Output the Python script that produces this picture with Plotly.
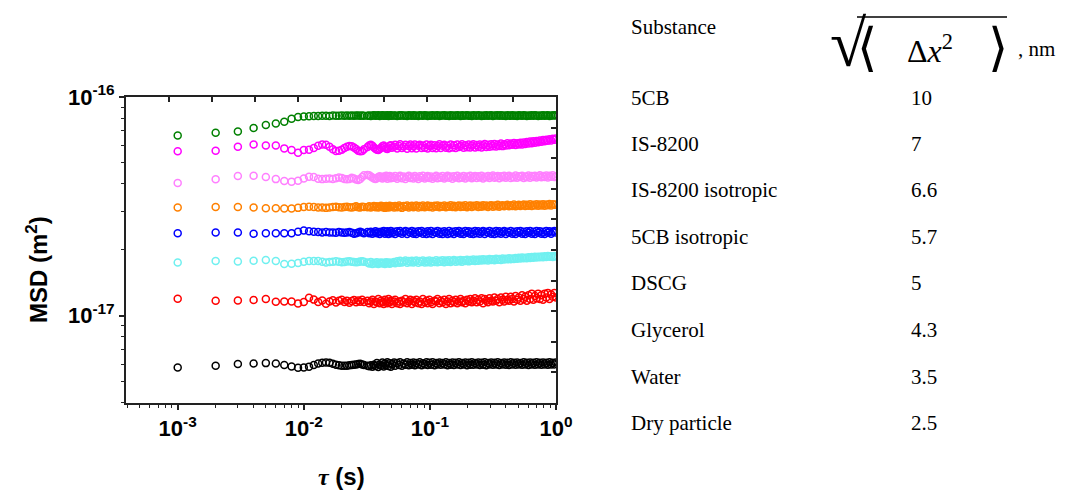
import plotly.graph_objects as go

# ---------------- data ----------------
# lag times in ms
tau_ms = [1, 2, 3, 4, 5, 6, 7, 8, 9, 10, 11, 12, 13, 14, 15, 16, 17, 18, 19, 20,
          21, 22, 23, 24, 25, 26, 27, 28, 29, 30,
          32, 33, 34, 35, 36, 37, 38, 39, 40, 41,
          42, 43, 44, 45, 46, 47, 48, 49, 50, 52,
          53, 55, 57, 58, 60, 62, 64, 66, 68, 70,
          72, 74, 76, 78, 81, 83, 86, 88, 91, 94,
          96, 99, 102, 105, 109, 112, 115, 119, 122, 126,
          130, 134, 138, 142, 146, 151, 155, 160, 165, 170,
          175, 180, 185, 191, 197, 203, 209, 215, 221, 228,
          235, 242, 249, 257, 264, 272, 280, 289, 297, 306,
          316, 325, 335, 345, 355, 366, 377, 388, 400, 412,
          424, 437, 450, 464, 478, 492, 507, 522, 538, 554,
          570, 587, 605, 623, 642, 661, 681, 701, 722, 744,
          766, 789, 813, 837, 862, 888, 915, 942, 971, 1000]

# MSD values in units of 1e-17 m^2
msd_5cb = [6.67, 6.86, 6.96, 7.21, 7.44, 7.57, 7.70, 7.96, 8.10, 8.15, 8.17, 8.19, 8.18, 8.20, 8.21,
           8.19, 8.22, 8.20, 8.21, 8.23, 8.20, 8.22, 8.21, 8.23, 8.20, 8.22, 8.24, 8.21, 8.22, 8.20,
           8.21, 8.24, 8.19, 8.23, 8.25, 8.20, 8.22, 8.26, 8.19, 8.23,
           8.25, 8.20, 8.24, 8.21, 8.26, 8.19, 8.23, 8.25, 8.20, 8.24,
           8.22, 8.19, 8.25, 8.21, 8.26, 8.20, 8.23, 8.19, 8.25, 8.22,
           8.20, 8.26, 8.21, 8.24, 8.19, 8.25, 8.22, 8.20, 8.26, 8.23,
           8.19, 8.24, 8.21, 8.26, 8.20, 8.23, 8.25, 8.19, 8.24, 8.22,
           8.26, 8.20, 8.23, 8.19, 8.25, 8.21, 8.24, 8.20, 8.26, 8.22,
           8.19, 8.25, 8.21, 8.23, 8.26, 8.20, 8.24, 8.19, 8.25, 8.22,
           8.20, 8.26, 8.22, 8.19, 8.24, 8.21, 8.25, 8.20, 8.23, 8.26,
           8.19, 8.24, 8.22, 8.25, 8.20, 8.26, 8.21, 8.23, 8.19, 8.25,
           8.22, 8.20, 8.26, 8.21, 8.24, 8.19, 8.25, 8.22, 8.20, 8.26,
           8.23, 8.19, 8.24, 8.21, 8.26, 8.20, 8.25, 8.22, 8.19, 8.24,
           8.21, 8.26, 8.20, 8.23, 8.25, 8.19, 8.24, 8.22, 8.26, 8.23]

msd_is8200 = [5.64, 5.68, 5.92, 6.07, 6.00, 6.00, 5.82, 5.72, 5.56, 5.72, 5.74, 5.84, 5.98, 6.07, 6.05,
              5.92, 5.76, 5.66, 5.68, 5.74, 5.84, 5.92, 5.97, 5.95, 5.88, 5.78, 5.68, 5.64, 5.66, 5.76,
              5.90, 6.00, 6.04, 5.98, 5.88, 5.80, 5.74, 5.72, 5.78, 5.86,
              5.95, 6.00, 5.90, 5.82, 5.78, 5.88, 5.98, 6.02, 5.86, 5.92,
              6.04, 5.82, 5.96, 6.08, 5.84, 5.93, 6.05, 5.80, 5.97, 6.06,
              5.83, 5.95, 6.07, 5.81, 5.98, 6.05, 5.84, 6.00, 5.86, 6.07,
              5.82, 5.96, 6.05, 5.85, 6.01, 5.83, 5.97, 6.08, 5.84, 5.99,
              6.05, 5.86, 5.98, 5.83, 6.06, 5.88, 6.01, 5.85, 6.07, 5.90,
              5.97, 6.08, 5.86, 6.02, 5.89, 6.06, 5.87, 6.00, 6.08, 5.88,
              6.03, 5.90, 6.07, 5.88, 6.02, 6.09, 5.90, 6.04, 5.92, 6.08,
              5.95, 6.10, 5.93, 6.06, 5.97, 6.12, 5.96, 6.08, 6.00, 6.14,
              6.01, 6.12, 6.04, 6.16, 6.03, 6.14, 6.07, 6.18, 6.06, 6.20,
              6.10, 6.22, 6.12, 6.25, 6.14, 6.27, 6.17, 6.29, 6.21, 6.32,
              6.24, 6.35, 6.27, 6.38, 6.30, 6.41, 6.33, 6.44, 6.37, 6.45]

msd_is8200_iso = [4.04, 4.20, 4.35, 4.36, 4.30, 4.21, 4.13, 4.10, 4.14, 4.24, 4.32, 4.30, 4.23, 4.21, 4.23,
                  4.24, 4.22, 4.25, 4.28, 4.26, 4.22, 4.20, 4.22, 4.27, 4.24, 4.19, 4.17, 4.22, 4.30, 4.38,
                  4.40, 4.38, 4.33, 4.28, 4.24, 4.22, 4.25, 4.30, 4.34, 4.28,
                  4.24, 4.33, 4.27, 4.36, 4.23, 4.31, 4.35, 4.25, 4.32, 4.27,
                  4.35, 4.23, 4.30, 4.36, 4.25, 4.33, 4.22, 4.31, 4.36, 4.26,
                  4.32, 4.24, 4.35, 4.28, 4.22, 4.34, 4.27, 4.36, 4.24, 4.31,
                  4.35, 4.26, 4.33, 4.23, 4.30, 4.36, 4.25, 4.32, 4.27, 4.35,
                  4.24, 4.31, 4.36, 4.27, 4.33, 4.23, 4.34, 4.28, 4.36, 4.25,
                  4.32, 4.27, 4.35, 4.24, 4.33, 4.29, 4.36, 4.25, 4.31, 4.35,
                  4.26, 4.34, 4.28, 4.36, 4.24, 4.32, 4.29, 4.35, 4.26, 4.33,
                  4.37, 4.27, 4.31, 4.35, 4.25, 4.34, 4.29, 4.36, 4.27, 4.33,
                  4.36, 4.26, 4.32, 4.28, 4.37, 4.27, 4.34, 4.30, 4.36, 4.26,
                  4.33, 4.29, 4.37, 4.27, 4.35, 4.31, 4.36, 4.28, 4.34, 4.38,
                  4.29, 4.35, 4.31, 4.37, 4.28, 4.36, 4.32, 4.38, 4.30, 4.34]

msd_5cb_iso = [3.12, 3.14, 3.14, 3.12, 3.10, 3.10, 3.09, 3.09, 3.11, 3.14, 3.15, 3.14, 3.12, 3.12, 3.11,
               3.12, 3.14, 3.15, 3.13, 3.12, 3.14, 3.15, 3.13, 3.12, 3.14, 3.16, 3.13, 3.12, 3.15, 3.14,
               3.13, 3.16, 3.12, 3.15, 3.17, 3.13, 3.16, 3.12, 3.15, 3.18,
               3.13, 3.16, 3.11, 3.17, 3.14, 3.12, 3.18, 3.14, 3.16, 3.12,
               3.17, 3.13, 3.19, 3.14, 3.11, 3.17, 3.15, 3.19, 3.12, 3.16,
               3.18, 3.13, 3.16, 3.19, 3.12, 3.17, 3.14, 3.19, 3.13, 3.16,
               3.19, 3.14, 3.17, 3.12, 3.18, 3.15, 3.19, 3.13, 3.17, 3.15,
               3.19, 3.13, 3.17, 3.15, 3.20, 3.14, 3.18, 3.13, 3.17, 3.19,
               3.14, 3.18, 3.15, 3.20, 3.13, 3.17, 3.19, 3.14, 3.18, 3.16,
               3.20, 3.14, 3.18, 3.15, 3.20, 3.16, 3.19, 3.14, 3.18, 3.20,
               3.15, 3.19, 3.16, 3.21, 3.15, 3.18, 3.20, 3.16, 3.19, 3.21,
               3.16, 3.20, 3.17, 3.22, 3.16, 3.19, 3.21, 3.17, 3.20, 3.22,
               3.17, 3.21, 3.18, 3.23, 3.17, 3.21, 3.19, 3.23, 3.18, 3.22,
               3.19, 3.23, 3.18, 3.22, 3.20, 3.24, 3.19, 3.23, 3.21, 3.22]

msd_dscg = [2.38, 2.40, 2.40, 2.37, 2.38, 2.38, 2.38, 2.38, 2.42, 2.45, 2.43, 2.42, 2.41, 2.40, 2.41,
            2.40, 2.40, 2.39, 2.41, 2.40, 2.39, 2.40, 2.41, 2.39, 2.37, 2.38, 2.40, 2.42, 2.40, 2.38,
            2.41, 2.38, 2.42, 2.37, 2.40, 2.43, 2.38, 2.41, 2.36, 2.42,
            2.39, 2.44, 2.37, 2.41, 2.43, 2.36, 2.40, 2.44, 2.38, 2.42,
            2.36, 2.43, 2.39, 2.44, 2.37, 2.41, 2.44, 2.36, 2.42, 2.39,
            2.44, 2.37, 2.42, 2.36, 2.43, 2.40, 2.44, 2.37, 2.41, 2.36,
            2.43, 2.38, 2.44, 2.36, 2.42, 2.39, 2.44, 2.37, 2.42, 2.36,
            2.43, 2.40, 2.36, 2.44, 2.38, 2.42, 2.36, 2.43, 2.39, 2.44,
            2.37, 2.42, 2.36, 2.44, 2.39, 2.43, 2.37, 2.42, 2.36, 2.44,
            2.38, 2.43, 2.37, 2.41, 2.44, 2.36, 2.42, 2.39, 2.44, 2.37,
            2.42, 2.36, 2.44, 2.38, 2.43, 2.37, 2.41, 2.44, 2.36, 2.42,
            2.39, 2.44, 2.37, 2.42, 2.36, 2.43, 2.40, 2.44, 2.37, 2.42,
            2.36, 2.43, 2.39, 2.44, 2.37, 2.42, 2.36, 2.44, 2.39, 2.43,
            2.37, 2.42, 2.36, 2.44, 2.39, 2.43, 2.37, 2.42, 2.44, 2.40]

msd_glycerol = [1.750, 1.776, 1.769, 1.782, 1.795, 1.776, 1.720, 1.725, 1.738, 1.763, 1.776, 1.776, 1.776, 1.763, 1.750,
                1.760, 1.765, 1.770, 1.762, 1.755, 1.760, 1.768, 1.772, 1.765, 1.758, 1.752, 1.760, 1.766, 1.770, 1.762,
                1.750, 1.730, 1.760, 1.720, 1.745, 1.730, 1.755, 1.720, 1.740, 1.750,
                1.730, 1.745, 1.720, 1.755, 1.735, 1.750, 1.725, 1.745, 1.740, 1.760,
                1.735, 1.770, 1.745, 1.780, 1.750, 1.765, 1.785, 1.745, 1.775, 1.755,
                1.780, 1.750, 1.770, 1.785, 1.745, 1.775, 1.760, 1.785, 1.750, 1.775,
                1.755, 1.785, 1.750, 1.775, 1.760, 1.790, 1.755, 1.780, 1.765, 1.790,
                1.755, 1.785, 1.765, 1.790, 1.760, 1.780, 1.795, 1.765, 1.785, 1.770,
                1.795, 1.765, 1.790, 1.775, 1.800, 1.770, 1.795, 1.780, 1.805, 1.775,
                1.800, 1.780, 1.805, 1.785, 1.810, 1.790, 1.805, 1.785, 1.815, 1.795,
                1.810, 1.790, 1.820, 1.800, 1.815, 1.795, 1.825, 1.805, 1.820, 1.810,
                1.830, 1.810, 1.825, 1.815, 1.835, 1.820, 1.840, 1.825, 1.845, 1.830,
                1.840, 1.830, 1.850, 1.835, 1.855, 1.840, 1.860, 1.845, 1.860, 1.850,
                1.865, 1.850, 1.870, 1.855, 1.875, 1.860, 1.870, 1.855, 1.875, 1.865]

msd_water = [1.194, 1.169, 1.173, 1.178, 1.190, 1.157, 1.160, 1.160, 1.136, 1.153, 1.206, 1.183, 1.153, 1.173, 1.132,
             1.160, 1.175, 1.148, 1.168, 1.182, 1.155, 1.170, 1.145, 1.165, 1.178, 1.150, 1.172, 1.158, 1.180, 1.155,
             1.17, 1.14, 1.16, 1.18, 1.13, 1.16, 1.15, 1.19, 1.14, 1.17,
             1.15, 1.13, 1.18, 1.16, 1.14, 1.19, 1.15, 1.17, 1.13, 1.16,
             1.18, 1.14, 1.16, 1.13, 1.17, 1.15, 1.19, 1.14, 1.16, 1.18,
             1.13, 1.17, 1.15, 1.18, 1.14, 1.16, 1.13, 1.19, 1.15, 1.17,
             1.14, 1.18, 1.15, 1.13, 1.17, 1.16, 1.19, 1.14, 1.17, 1.15,
             1.18, 1.13, 1.16, 1.19, 1.14, 1.17, 1.15, 1.18, 1.14, 1.16,
             1.19, 1.15, 1.17, 1.14, 1.18, 1.16, 1.19, 1.15, 1.17, 1.20,
             1.15, 1.18, 1.16, 1.20, 1.14, 1.19, 1.17, 1.15, 1.20, 1.17,
             1.16, 1.21, 1.17, 1.19, 1.15, 1.21, 1.18, 1.16, 1.22, 1.18,
             1.17, 1.22, 1.19, 1.16, 1.23, 1.18, 1.21, 1.17, 1.24, 1.19,
             1.22, 1.17, 1.24, 1.19, 1.26, 1.18, 1.23, 1.20, 1.26, 1.19,
             1.24, 1.18, 1.26, 1.21, 1.27, 1.19, 1.25, 1.22, 1.27, 1.21]

msd_dry = [0.579, 0.589, 0.600, 0.604, 0.606, 0.604, 0.594, 0.585, 0.577, 0.579, 0.584, 0.594, 0.603, 0.608, 0.610,
           0.608, 0.602, 0.596, 0.592, 0.590, 0.589, 0.590, 0.592, 0.594, 0.596, 0.598, 0.600, 0.602, 0.598, 0.594,
           0.590, 0.586, 0.592, 0.584, 0.596, 0.588, 0.606, 0.582, 0.598, 0.590,
           0.610, 0.585, 0.603, 0.592, 0.612, 0.588, 0.605, 0.583, 0.600, 0.610,
           0.590, 0.606, 0.594, 0.611, 0.589, 0.603, 0.596, 0.612, 0.592, 0.607,
           0.595, 0.610, 0.593, 0.606, 0.598, 0.611, 0.592, 0.605, 0.597, 0.612,
           0.594, 0.608, 0.596, 0.611, 0.593, 0.606, 0.598, 0.610, 0.595, 0.607,
           0.597, 0.611, 0.593, 0.607, 0.596, 0.610, 0.594, 0.608, 0.598, 0.611,
           0.594, 0.607, 0.597, 0.610, 0.593, 0.608, 0.596, 0.611, 0.595, 0.607,
           0.598, 0.610, 0.594, 0.608, 0.596, 0.611, 0.593, 0.607, 0.597, 0.610,
           0.595, 0.609, 0.597, 0.611, 0.594, 0.607, 0.598, 0.610, 0.596, 0.608,
           0.594, 0.611, 0.597, 0.608, 0.595, 0.610, 0.598, 0.607, 0.596, 0.611,
           0.597, 0.609, 0.594, 0.610, 0.598, 0.608, 0.595, 0.611, 0.597, 0.609,
           0.596, 0.610, 0.598, 0.608, 0.595, 0.611, 0.597, 0.609, 0.598, 0.610]

substances = ["5CB", "IS-8200", "IS-8200 isotropic", "5CB isotropic", "DSCG", "Glycerol", "Water", "Dry particle"]
rms_nm = ["10", "7", "6.6", "5.7", "5", "4.3", "3.5", "2.5"]
series = [msd_5cb, msd_is8200, msd_is8200_iso, msd_5cb_iso, msd_dscg, msd_glycerol, msd_water, msd_dry]
colors = ["#008000", "#ff00ff", "#ff80ff", "#ff8000", "#0000ff", "#70f0f0", "#ff0000", "#000000"]

x_ticks = [1e-3, 1e-2, 1e-1, 1]
x_ticktext = ["10<sup>-3</sup>", "10<sup>-2</sup>", "10<sup>-1</sup>", "10<sup>0</sup>"]
y_ticks = [1e-17, 1e-16]
y_ticktext = ["10<sup>-17</sup>", "10<sup>-16</sup>"]

# ---------------- figure ----------------
W, H = 1069, 493
L, R, T, B = 126, 556, 97, 403


def px(x):
    return (x - L) / (R - L)


def py(y):
    return (B - y) / (B - T)


tau_s = [t / 1000 for t in tau_ms]
fig = go.Figure()
for name, vals, col in zip(substances, series, colors):
    fig.add_trace(go.Scatter(
        x=tau_s, y=[v * 1e-17 for v in vals], mode="markers", name=name,
        marker=dict(symbol="circle-open", size=7, color=col, line=dict(width=1.5, color=col)),
        showlegend=False, hoverinfo="skip"))

# invisible trace on the mirror axes (top / right tick frames)
fig.add_trace(go.Scatter(x=[0], y=[0], xaxis="x2", yaxis="y2", mode="markers",
                         marker=dict(opacity=0), showlegend=False, hoverinfo="skip"))

x_minor = [m * 10 ** e for e in (-4, -3, -2, -1) for m in range(2, 10) if m * 10 ** e >= 3.9e-4]
y_minor = [m * 10 ** e for e in (-18, -17) for m in range(2, 10) if m * 10 ** e >= 4e-18]

tickfont = dict(family="Liberation Sans, Arial", size=22, color="black", weight="bold")
axcol = "#222222"

fig.update_layout(
    width=W, height=H, margin=dict(l=L, r=W - R, t=T, b=H - B, pad=0),
    paper_bgcolor="white", plot_bgcolor="white",
    xaxis=dict(type="log", range=[-3.41, 0], showgrid=False, zeroline=False,
               showline=True, linecolor=axcol, linewidth=1.8, mirror=False,
               ticks="outside", ticklen=5, tickwidth=1.5, tickcolor=axcol,
               tickmode="array", tickvals=x_ticks, ticktext=x_ticktext, tickfont=tickfont,
               minor=dict(tickmode="array", tickvals=x_minor, ticks="outside", ticklen=3,
                          tickwidth=1.2, tickcolor=axcol, showgrid=False)),
    yaxis=dict(type="log", range=[-17.40, -16], showgrid=False, zeroline=False,
               showline=True, linecolor=axcol, linewidth=1.8, mirror=False,
               ticks="outside", ticklen=5, tickwidth=1.5, tickcolor=axcol,
               tickmode="array", tickvals=y_ticks, ticktext=y_ticktext, tickfont=tickfont,
               minor=dict(tickmode="array", tickvals=y_minor, ticks="outside", ticklen=3,
                          tickwidth=1.2, tickcolor=axcol, showgrid=False)),
    xaxis2=dict(overlaying="x", side="top", anchor="y", range=[0, 10], dtick=1, tick0=0,
                showgrid=False, zeroline=False, showline=True, linecolor=axcol, linewidth=1.8,
                ticks="inside", ticklen=5, tickwidth=1.5, tickcolor=axcol, showticklabels=False),
    yaxis2=dict(overlaying="y", side="right", anchor="x", range=[0, 10], dtick=1, tick0=0,
                showgrid=False, zeroline=False, showline=True, linecolor=axcol, linewidth=1.8,
                ticks="inside", ticklen=5, tickwidth=1.5, tickcolor=axcol, showticklabels=False),
)

ann = []
# axis titles
ann.append(dict(text="<b>MSD (m<sup>2</sup>)</b>", x=px(37), y=py(270), xref="paper", yref="paper",
                textangle=-90, showarrow=False, xanchor="center", yanchor="middle",
                font=dict(family="Liberation Sans, Arial", size=24, color="black")))
ann.append(dict(text="<span style='font-family:Liberation Serif'><b><i>τ</i></b></span> <b>(s)</b>",
                x=px(341), y=py(476), xref="paper", yref="paper",
                showarrow=False, xanchor="center", yanchor="middle",
                font=dict(family="Liberation Sans, Arial", size=24, color="black")))

# table
serif = dict(family="Liberation Serif, Times New Roman", size=21, color="black")
ann.append(dict(text="Substance", x=px(629), y=py(27), xref="paper", yref="paper",
                showarrow=False, xanchor="left", yanchor="middle", font=serif))
row_y = [98, 144, 190, 237, 283, 330, 377, 423]
for name, val, yy in zip(substances, rms_nm, row_y):
    ann.append(dict(text=name, x=px(629), y=py(yy), xref="paper", yref="paper",
                    showarrow=False, xanchor="left", yanchor="middle", font=serif))
    ann.append(dict(text=val, x=px(909), y=py(yy), xref="paper", yref="paper",
                    showarrow=False, xanchor="left", yanchor="middle", font=serif))

# header formula sqrt(<Δx²>) , nm
ann.append(dict(text="√", x=px(848), y=py(44), xref="paper", yref="paper", showarrow=False,
                xanchor="center", yanchor="middle",
                font=dict(family="Liberation Serif, Times New Roman", size=66, color="black")))
ann.append(dict(text="⟨", x=px(867), y=py(47), xref="paper", yref="paper", showarrow=False,
                xanchor="center", yanchor="middle",
                font=dict(family="DejaVu Serif", size=52, color="black")))
ann.append(dict(text="Δ<i>x</i><sup>2</sup>", x=px(930), y=py(49), xref="paper", yref="paper",
                showarrow=False, xanchor="center", yanchor="middle",
                font=dict(family="Liberation Serif, Times New Roman", size=32, color="black")))
ann.append(dict(text="⟩", x=px(998), y=py(47), xref="paper", yref="paper", showarrow=False,
                xanchor="center", yanchor="middle",
                font=dict(family="DejaVu Serif", size=52, color="black")))
ann.append(dict(text=", nm", x=px(1016), y=py(49), xref="paper", yref="paper", showarrow=False,
                xanchor="left", yanchor="middle", font=serif))
fig.update_layout(annotations=ann)

fig.add_shape(type="line", xref="paper", yref="paper", x0=px(857), x1=px(1007), y0=py(17), y1=py(17),
              line=dict(color="black", width=1.6))

fig.write_html("out.html")
